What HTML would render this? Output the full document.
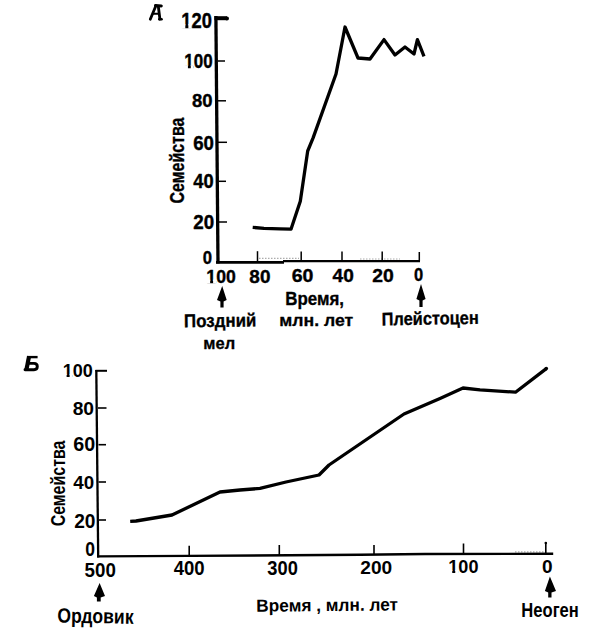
<!DOCTYPE html>
<html><head><meta charset="utf-8">
<style>
html,body{margin:0;padding:0;background:#fff;}
body{width:601px;height:633px;overflow:hidden;position:relative;}
svg{position:absolute;left:0;top:0;}
text{font-family:"Liberation Sans",sans-serif;font-weight:bold;fill:#000;stroke:#000;stroke-linejoin:round;}
</style></head><body>
<svg width="601" height="633" viewBox="0 0 601 633">
<g stroke="#000" fill="none" stroke-linecap="butt">
  <!-- Chart A axes -->
  <path d="M215.9 16 L218 263.6" stroke-width="3.3"/>
  <path d="M214.5 18.2 L227 18.2" stroke-width="4"/>
  <circle cx="227" cy="18.6" r="2" fill="#000" stroke="none"/>
  <path d="M216 262.3 L284 262.3" stroke-width="2.8"/>
  <path d="M283 261.2 L420 261.2" stroke-width="2.3"/>
  <g stroke="#777" stroke-width="1.2" stroke-dasharray="1.5 1.5" opacity="0.6">
    <path d="M259 258.3 L299 258.3"/>
    <path d="M360 259 L400 259"/>
    <path d="M515 551.8 L544 551.8"/>
  </g>
  <g stroke-width="1.5">
    <path d="M218 61 L225 61"/>
    <path d="M218 100.8 L226 100.8"/>
    <path d="M218 142.3 L227 142.3"/>
    <path d="M218.5 181.3 L226 181.3"/>
    <path d="M218.5 222 L227 222"/>
    <path d="M257.5 251.2 L257.5 261"/>
    <path d="M301.2 251.5 L301.2 261"/>
    <path d="M342 251.5 L342 261"/>
    <path d="M382.2 251.5 L382.2 261"/>
    <path d="M419.3 252 L419.3 261"/>
  </g>
  <!-- Chart A data -->
  <path d="M252.7 227.4 L264 228.3 L280 228.8 L291 229.2 L300.3 201.3 L307.7 151 L313.2 137.6 L336 74 L345 27 L358 58 L370 59 L384 39.6 L395 55 L405 47 L414 54 L417.4 39.6 L424 56.4" stroke-width="3.3" stroke-linejoin="round" stroke-linecap="butt"/>

  <!-- Chart B axes -->
  <path d="M96.3 370 L98.2 557.6" stroke-width="2.3"/>
  <path d="M95.5 370.8 L107 370.8" stroke-width="2"/>
  <path d="M97 556.4 L189 555.9 L360 554.8 L425 554 L553.2 553.8" stroke-width="2.4"/>
  <g stroke-width="1.6">
    <path d="M98 408 L106.5 408"/>
    <path d="M98.5 444.7 L106 444.7"/>
    <path d="M98.5 482 L106 482"/>
    <path d="M98.5 520 L106 520"/>
    <path d="M189.2 545.8 L189.2 555"/>
    <path d="M279.3 545 L279.3 555"/>
    <path d="M374 545 L374 554"/>
    <path d="M463.5 543.5 L463.5 553.5"/>
    <path d="M545.8 542.5 L545.8 553"/>
  </g>
  <circle cx="545.8" cy="543" r="1.3" fill="#000" stroke="none"/>
  <!-- Chart B data -->
  <path d="M130.2 521.4 L136 521 L172 515 L220 492 L240 490 L260 488.4 L286 482 L319 475 L329 465 L404 414 L440 398.5 L463 388 L480 389.8 L515.5 392.2 L546.3 368.6" stroke-width="3.3" stroke-linejoin="round" stroke-linecap="butt"/>
  <circle cx="546.3" cy="368.6" r="1.8" fill="#000" stroke="none"/>
</g>
<!-- arrows -->
<g fill="#000">
  <path d="M222.2 286 L226.7 300 L223.6 301.5 L223.6 307.5 L220.4 307.5 L220.4 301.5 L217 300 Z"/>
  <path d="M421 284 L425.6 299 L422.6 300.5 L422.6 307 L419.4 307 L419.4 300.5 L416.4 299 Z"/>
  <path d="M99.6 583.1 L105 596 L100.7 597.5 L100.7 601.6 L96.9 601.6 L96.9 597.5 L93.9 596 Z"/>
  <path d="M549.9 576.4 L556 591 L551.5 592.5 L551.5 597.4 L548.2 597.4 L548.2 592.5 L544.9 591 Z"/>
</g>
<!-- letters A and B -->
<g stroke="#000" fill="none" stroke-linecap="round" stroke-linejoin="round">
  <path d="M150.3 19.3 L155.9 5.8" stroke-width="2.8"/>
  <path d="M155.5 5.6 L161.3 6" stroke-width="3"/>
  <path d="M158.4 7 L159.9 19" stroke-width="2.8"/>
  <path d="M153.4 13.8 L158.6 13.8" stroke-width="2"/>
  <path d="M159.2 19.2 L161.6 19.2" stroke-width="2.4"/>
  <path d="M27.8 357.1 L37.6 357.1" stroke-width="2.4" stroke-linecap="butt"/>
  <path d="M29.1 356.2 L26.4 369.8" stroke-width="4.2" stroke-linecap="butt"/>
  <path d="M28.5 363.4 L34 363.4 Q37.3 363.4 37.3 366.6 Q37.3 369.7 34 369.7 L25 369.7" stroke-width="2.9"/>
</g>
<g transform="matrix(1.0464 0 0 1.2750 181.35 27.65)"><text style="font-size:17.5px;stroke-width:0.35px;">120</text><g fill="#fff"><rect x="-0.30" y="-2.80" width="4.08" height="3.60"/><rect x="6.70" y="-2.80" width="2.98" height="3.60"/></g></g>
<g transform="matrix(0.9714 0 0 1.1167 184.25 68.35)"><text style="font-size:17.5px;stroke-width:0.35px;">100</text><g fill="#fff"><rect x="-0.30" y="-2.80" width="4.08" height="3.60"/><rect x="6.70" y="-2.80" width="2.98" height="3.60"/></g></g>
<text transform="matrix(1.0556 0 0 1.0750 191.95 107.25)" style="font-size:17.5px;stroke-width:0.35px;">80</text>
<text transform="matrix(1.0667 0 0 1.1083 193.25 150.35)" style="font-size:17.5px;stroke-width:0.35px;">60</text>
<text transform="matrix(1.0444 0 0 1.1250 193.25 188.25)" style="font-size:17.5px;stroke-width:0.35px;">40</text>
<text transform="matrix(1.0722 0 0 1.1083 193.35 229.40)" style="font-size:17.5px;stroke-width:0.35px;">20</text>
<text transform="matrix(0.9556 0 0 1.0083 202.75 263.95)" style="font-size:17.5px;stroke-width:0.35px;">0</text>
<g transform="matrix(1.0071 0 0 1.0833 206.35 282.65)"><text style="font-size:17.5px;stroke-width:0.35px;">100</text><g fill="#fff"><rect x="-0.30" y="-2.80" width="4.08" height="3.60"/><rect x="6.70" y="-2.80" width="2.98" height="3.60"/></g></g>
<text transform="matrix(1.0833 0 0 1.0833 249.35 282.65)" style="font-size:17.5px;stroke-width:0.35px;">80</text>
<text transform="matrix(1.1167 0 0 1.0667 291.75 281.85)" style="font-size:17.5px;stroke-width:0.35px;">60</text>
<text transform="matrix(1.0889 0 0 1.0417 332.55 281.85)" style="font-size:17.5px;stroke-width:0.35px;">40</text>
<text transform="matrix(1.1056 0 0 1.0667 372.35 282.05)" style="font-size:17.5px;stroke-width:0.35px;">20</text>
<text transform="matrix(0.9444 0 0 1.0500 414.05 281.25)" style="font-size:17.5px;stroke-width:0.35px;">0</text>
<text transform="rotate(-0.70 219.8 320.1) matrix(1.0235 0 0 1.1250 184.03 326.85)" style="font-size:16.5px;stroke-width:0.3px;">Поздний</text>
<text transform="matrix(1.0000 0 0 1.0222 203.35 348.85)" style="font-size:16.5px;stroke-width:0.3px;">мел</text>
<text transform="matrix(1.0236 0 0 1.1545 285.33 305.35)" style="font-size:16.5px;stroke-width:0.3px;">Время,</text>
<text transform="matrix(1.0687 0 0 1.0444 279.28 326.25)" style="font-size:16.5px;stroke-width:0.3px;">млн. лет</text>
<text transform="rotate(-1.00 429.8 318.0) matrix(0.9926 0 0 1.1083 381.66 324.65)" style="font-size:16.5px;stroke-width:0.3px;">Плейстоцен</text>
<g transform="matrix(1.0296 0 0 1.0833 62.72 377.25)"><text style="font-size:17.5px;stroke-width:0.0px;">100</text><g fill="#fff"><rect x="-0.30" y="-2.80" width="4.08" height="3.60"/><rect x="6.70" y="-2.80" width="2.98" height="3.60"/></g></g>
<text transform="matrix(1.1000 0 0 1.0500 72.65 415.05)" style="font-size:17.5px;stroke-width:0.0px;">80</text>
<text transform="matrix(1.1278 0 0 1.1417 73.35 451.35)" style="font-size:17.5px;stroke-width:0.0px;">60</text>
<text transform="matrix(1.0722 0 0 1.0833 73.35 489.35)" style="font-size:17.5px;stroke-width:0.0px;">40</text>
<text transform="matrix(1.0944 0 0 1.1250 74.15 527.65)" style="font-size:17.5px;stroke-width:0.0px;">20</text>
<text transform="matrix(1.0000 0 0 1.1583 85.25 556.45)" style="font-size:17.5px;stroke-width:0.0px;">0</text>
<text transform="matrix(1.0714 0 0 1.1250 84.55 577.15)" style="font-size:17.5px;stroke-width:0.0px;">500</text>
<text transform="matrix(1.0607 0 0 1.1250 173.65 574.65)" style="font-size:17.5px;stroke-width:0.0px;">400</text>
<text transform="matrix(1.0464 0 0 1.1083 267.35 575.35)" style="font-size:17.5px;stroke-width:0.0px;">300</text>
<text transform="matrix(1.0929 0 0 1.0833 360.35 574.35)" style="font-size:17.5px;stroke-width:0.0px;">200</text>
<g transform="matrix(1.0333 0 0 1.0583 448.32 573.05)"><text style="font-size:17.5px;stroke-width:0.0px;">100</text><g fill="#fff"><rect x="-0.30" y="-2.80" width="4.08" height="3.60"/><rect x="6.70" y="-2.80" width="2.98" height="3.60"/></g></g>
<text transform="matrix(1.0889 0 0 1.0833 541.95 573.35)" style="font-size:17.5px;stroke-width:0.0px;">0</text>
<text transform="rotate(1.00 95.2 616.2) matrix(1.0648 0 0 1.2545 57.35 623.15)" style="font-size:16.5px;stroke-width:0.0px;">Ордовик</text>
<text transform="rotate(-0.50 327.4 605.2) matrix(1.0448 0 0 1.0636 256.31 611.05)" style="font-size:16.5px;stroke-width:0.0px;">Время , млн. лет</text>
<text transform="matrix(1.0055 0 0 1.1818 521.34 617.35)" style="font-size:16.5px;stroke-width:0.0px;">Неоген</text>
<text transform="matrix(0 -0.9674 1.1750 0 183.65 203.45)" style="font-size:16.5px;stroke-width:0.3px;">Семейства</text>
<text transform="matrix(0 -0.9670 1.2583 0 65.25 526.35)" style="font-size:16.5px;stroke-width:0.0px;">Семейства</text>
</svg>
</body></html>
